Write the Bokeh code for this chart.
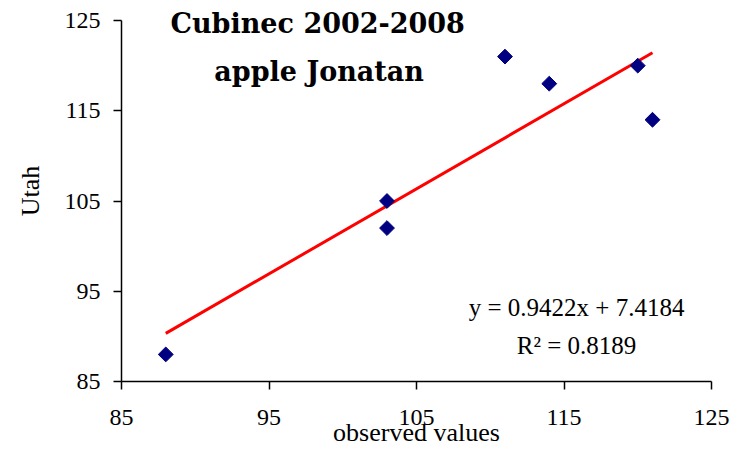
import numpy as np
from bokeh.plotting import figure
from bokeh.models import Range1d, Label, FixedTicker
from bokeh.embed import file_html
from bokeh.resources import INLINE

# Data
observed = [88, 103, 103, 111, 114, 120, 121]
utah = [88, 105, 102, 121, 118, 120, 114]
slope = 0.9422
intercept = 7.4184
r_squared = 0.8189
tick_values = [85, 95, 105, 115, 125]
title_lines = ["Cubinec 2002-2008", "apple Jonatan"]
x_label = "observed values"
y_label = "Utah"

SERIF = "Liberation Serif"
TITLE_FONT = "DejaVu Serif"

# frame reaches the top of the canvas so the title is not clipped; axis bounded to 85..125
p = figure(width=731, height=454, output_backend="svg", toolbar_location=None,
           x_range=Range1d(85, 125), y_range=Range1d(85, 125 + 20 / 9.025),
           min_border_left=121, min_border_right=20, min_border_top=0, min_border_bottom=73)
p.outline_line_color = None
p.xgrid.visible = False
p.ygrid.visible = False
p.background_fill_color = "white"
p.border_fill_color = "white"

for ax in (p.xaxis[0], p.yaxis[0]):
    ax.ticker = FixedTicker(ticks=tick_values)
    ax.bounds = (85, 125)
    ax.minor_tick_line_color = None
    ax.major_tick_in = 0
    ax.major_tick_out = 8
    ax.axis_line_width = 1.5
    ax.major_tick_line_width = 1.5
    ax.axis_line_color = "black"
    ax.major_tick_line_color = "black"
    ax.major_label_text_font = SERIF
    ax.major_label_text_font_size = "24px"
    ax.major_label_text_color = "black"
    ax.axis_label_text_font = SERIF
    ax.axis_label_text_font_size = "26px"
    ax.axis_label_text_font_style = "normal"
    ax.axis_label_text_color = "black"

p.xaxis[0].major_label_standoff = 20
p.yaxis[0].major_label_standoff = 13
p.yaxis[0].axis_label = y_label
p.yaxis[0].axis_label_standoff = 17
p.xaxis[0].axis_label = x_label
p.xaxis[0].axis_label_standoff = -10

# trend line over data range
xs = np.array([min(observed), max(observed)], dtype=float)
ys = slope * xs + intercept
p.line(xs, ys, line_color="#FF0000", line_width=3)

# points
p.scatter(observed, utah, marker="square", angle=np.pi / 4, size=10.5,
          fill_color="#000080", line_color="#000080")

# title
p.add_layout(Label(x=98.3, y=124.7, text=title_lines[0], text_align="center",
                   text_baseline="alphabetic", text_font=TITLE_FONT, text_font_style="bold",
                   text_font_size="27px", text_color="black"))
p.add_layout(Label(x=98.4, y=119.3, text=title_lines[1], text_align="center",
                   text_baseline="alphabetic", text_font=TITLE_FONT, text_font_style="bold",
                   text_font_size="27px", text_color="black"))

# equation
p.add_layout(Label(x=115.85, y=93.2, text=f"y = {slope}x + {intercept}", text_align="center",
                   text_baseline="alphabetic", text_font=SERIF,
                   text_font_size="25px", text_color="black"))
p.add_layout(Label(x=115.85, y=89.0, text=f"R\u00b2 = {r_squared}", text_align="center",
                   text_baseline="alphabetic", text_font=SERIF,
                   text_font_size="25px", text_color="black"))

open("out.html", "w").write(file_html(p, INLINE))
